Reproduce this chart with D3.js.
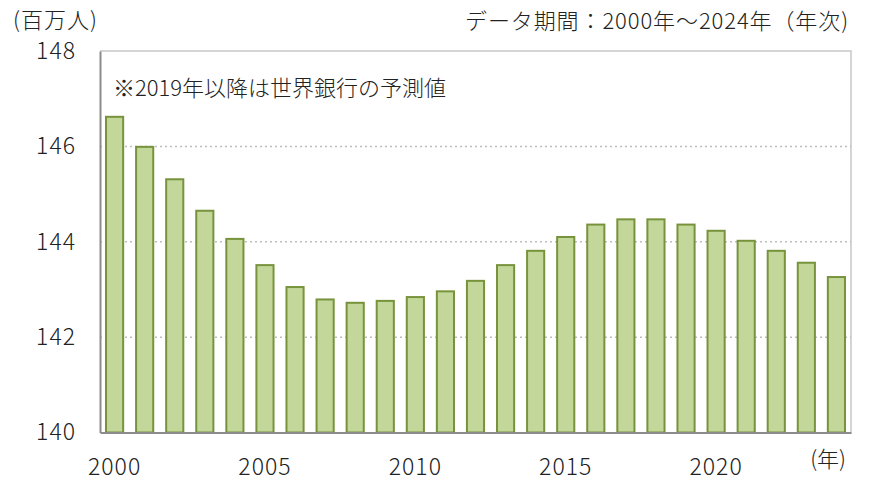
<!DOCTYPE html>
<html>
<head>
<meta charset="utf-8">
<script src="https://cdn.jsdelivr.net/npm/d3@7"></script>
<style>
  body { margin: 0; background: #fff; }
  text { font-family: "Noto Sans CJK JP", "Noto Sans", sans-serif; font-weight: 300; fill: #222; }
</style>
</head>
<body>
<svg id="chart" width="872" height="481"></svg>
<script>
const years = d3.range(2000, 2025)
const population = [
  146.62, 145.99, 145.31, 144.65, 144.06, 143.51, 143.05, 142.79, 142.72, 142.76,
  142.84, 142.96, 143.18, 143.51, 143.81, 144.10, 144.36, 144.47, 144.47, 144.36,
  144.23, 144.02, 143.81, 143.56, 143.26
]
const yTicks = [140, 142, 144, 146, 148]
const xTickYears = [2000, 2005, 2010, 2015, 2020]

const svg = d3.select('#chart')
const plotLeft = 100, plotRight = 851, plotTop = 51, plotBottom = 432.5

const x = d3.scaleBand()
  .domain(years)
  .range([plotLeft, plotRight])
  .paddingInner(0.43)
  .paddingOuter(0.2)

const y = d3.scaleLinear()
  .domain([140, 148])
  .range([plotBottom, plotTop])

// plot border (top / right)
svg.append('path')
  .attr('d', `M${plotLeft},${plotTop}H${plotRight}V${plotBottom}`)
  .attr('fill', 'none')
  .attr('stroke', '#c8c8c8')
  .attr('stroke-width', 1.5)

// dotted gridlines
svg.append('g')
  .selectAll('line')
  .data(yTicks.filter(d => d > 140 && d < 148))
  .enter()
  .append('line')
  .attr('x1', plotLeft)
  .attr('x2', plotRight)
  .attr('y1', d => y(d))
  .attr('y2', d => y(d))
  .attr('stroke', '#bdbdbd')
  .attr('stroke-width', 1.5)
  .attr('stroke-dasharray', '2,3')

// bars
svg.append('g')
  .selectAll('rect')
  .data(population)
  .enter()
  .append('rect')
  .attr('x', (d, i) => x(years[i]))
  .attr('y', d => y(d))
  .attr('width', x.bandwidth())
  .attr('height', d => plotBottom - y(d))
  .attr('fill', '#c4d79b')
  .attr('stroke', '#77933c')
  .attr('stroke-width', 2)

// axes
const yAxis = d3.axisLeft(y).tickValues(yTicks).tickSize(0).tickPadding(24)
const gy = svg.append('g').attr('transform', `translate(${plotLeft},0)`).call(yAxis)
gy.select('.domain').attr('stroke', '#8c8c8c').attr('stroke-width', 2)
gy.selectAll('text').attr('font-size', 23).attr('font-family', null).attr('letter-spacing', 1)

const xAxis = d3.axisBottom(x)
  .tickValues(xTickYears)
  .tickSize(0)
  .tickPadding(26)
const gx = svg.append('g').attr('transform', `translate(0,${plotBottom})`).call(xAxis)
gx.select('.domain').attr('stroke', '#8c8c8c').attr('stroke-width', 2)
gx.selectAll('text').attr('font-size', 23).attr('font-family', null).attr('letter-spacing', 1)

// labels
svg.append('text').attr('x', 13).attr('y', 28).attr('font-size', 22)
  .attr('letter-spacing', 1).text('(百万人)')
svg.append('text').attr('x', 849).attr('y', 29).attr('font-size', 22)
  .attr('letter-spacing', 0.9)
  .attr('text-anchor', 'end').text('データ期間：2000年～2024年（年次)')
svg.append('text').attr('x', 113).attr('y', 96).attr('font-size', 22).text('※2019年以降は世界銀行の予測値')
svg.append('text').attr('x', 846).attr('y', 467).attr('font-size', 22)
  .attr('text-anchor', 'end').text('(年)')
</script>
</body>
</html>
